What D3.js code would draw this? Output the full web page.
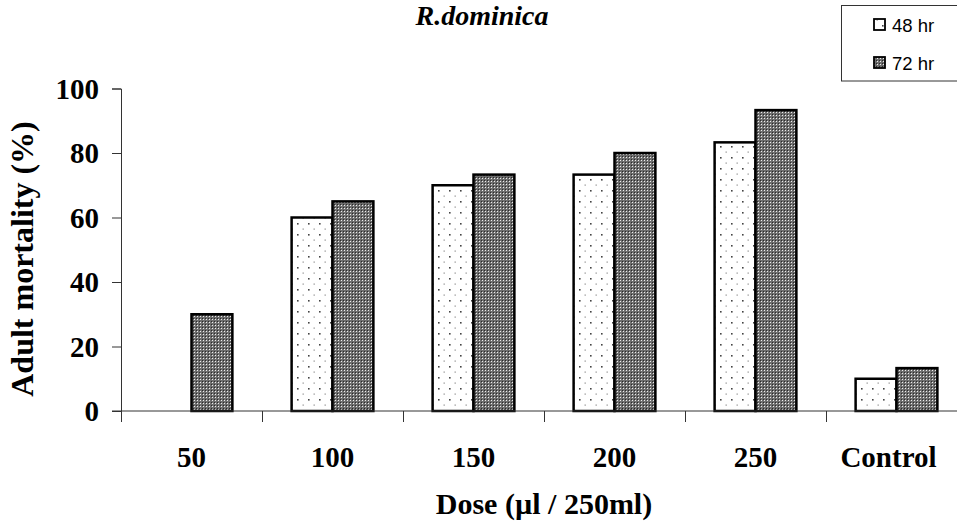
<!DOCTYPE html>
<html>
<head>
<meta charset="utf-8">
<script src="https://cdn.jsdelivr.net/npm/d3@7"></script>
<style>
  html, body { margin: 0; padding: 0; background: #fff; }
  svg { display: block; }
</style>
</head>
<body>
<svg id="chart" width="957" height="527"></svg>
<script>
const categories = ["50", "100", "150", "200", "250", "Control"];
const seriesNames = ["48 hr", "72 hr"];
const values48 = [0, 60, 70, 73.3, 83.3, 10];
const values72 = [30, 65, 73.3, 80, 93.3, 13.3];
const yTicks = [0, 20, 40, 60, 80, 100];
const chartTitle = "R.dominica";
const xTitle = "Dose (\u00b5l / 250ml)";
const yTitle = "Adult mortality (%)";

const svg = d3.select("#chart");
const W = 957, H = 527;
const plot = { left: 121, right: 967, top: 88.5, bottom: 411 };
const serif = "'Liberation Serif', 'Times New Roman', serif";
const sans = "'Liberation Sans', Arial, sans-serif";

svg.append("rect").attr("width", W).attr("height", H).attr("fill", "#fff");

// patterns
const defs = svg.append("defs");
const pDot = defs.append("pattern").attr("id", "pDot")
  .attr("patternUnits", "userSpaceOnUse").attr("width", 11).attr("height", 11);
pDot.append("rect").attr("width", 11).attr("height", 11).attr("fill", "#fff");
pDot.append("rect").attr("x", 2).attr("y", 3).attr("width", 1.6).attr("height", 1.6).attr("fill", "#444");
pDot.append("rect").attr("x", 7.5).attr("y", 8.5).attr("width", 1.4).attr("height", 1.2).attr("fill", "#999");

const pHatch = defs.append("pattern").attr("id", "pHatch")
  .attr("patternUnits", "userSpaceOnUse").attr("width", 3).attr("height", 3);
pHatch.append("rect").attr("width", 3).attr("height", 3).attr("fill", "#6e6e6e");
pHatch.append("rect").attr("x", 1).attr("y", 1).attr("width", 1).attr("height", 1).attr("fill", "#ededed");
pHatch.append("rect").attr("x", 0).attr("y", 0).attr("width", 1).attr("height", 1).attr("fill", "#2a2a2a");

const fills = ["url(#pDot)", "url(#pHatch)"];

// scales
const x0 = d3.scaleBand().domain(categories).range([plot.left, plot.right]).padding(0);
const bw = x0.bandwidth();
const barW = bw * 0.29;
const x1 = d3.scaleBand().domain(seriesNames).range([bw / 2 - barW, bw / 2 + barW]).padding(0);
const y = d3.scaleLinear().domain([0, 100]).range([plot.bottom, plot.top]);

// title
svg.append("text").attr("x", 482).attr("y", 25)
  .attr("text-anchor", "middle")
  .style("font-family", serif).style("font-weight", "bold").style("font-style", "italic")
  .style("font-size", "28px").text(chartTitle);

// bars
const data = categories.map((c, i) => ({ cat: c, vals: [values48[i], values72[i]] }));
const groups = svg.append("g").selectAll("g").data(data).join("g")
  .attr("transform", d => `translate(${x0(d.cat)},0)`);
groups.selectAll("rect")
  .data(d => d.vals.map((v, j) => ({ s: seriesNames[j], v, j })).filter(e => e.v > 0))
  .join("rect")
  .attr("x", e => x1(e.s))
  .attr("y", e => y(e.v))
  .attr("width", x1.bandwidth())
  .attr("height", e => y(0) - y(e.v))
  .attr("fill", e => fills[e.j])
  .attr("stroke", "#000")
  .attr("stroke-width", 2.5);

// y axis
const yAxis = d3.axisLeft(y).tickValues(yTicks).tickSize(9).tickPadding(13);
const gy = svg.append("g").attr("transform", `translate(${plot.left},0)`).call(yAxis);
gy.select(".domain").attr("stroke", "#333");
gy.selectAll(".tick line").attr("stroke", "#333");
gy.selectAll(".tick text")
  .style("font-family", serif).style("font-weight", "bold").style("font-size", "29px")
  .attr("fill", "#000").attr("dy", "0.34em");

// x axis line
svg.append("line").attr("x1", plot.left - 9).attr("x2", W)
  .attr("y1", y(0)).attr("y2", y(0)).attr("stroke", "#333").attr("stroke-width", 1);
// category boundary ticks
svg.append("g").selectAll("line").data(categories).join("line")
  .attr("x1", d => x0(d) + 0.5).attr("x2", d => x0(d) + 0.5)
  .attr("y1", y(0)).attr("y2", y(0) + 11)
  .attr("stroke", "#333").attr("stroke-width", 1);
// x labels
svg.append("g").selectAll("text").data(categories).join("text")
  .attr("x", d => x0(d) + bw / 2 - (d === "Control" ? 8 : 0))
  .attr("y", 467)
  .attr("text-anchor", "middle")
  .style("font-family", serif).style("font-weight", "bold").style("font-size", "29px")
  .text(d => d);

// axis titles
svg.append("text").attr("x", (plot.left + plot.right) / 2).attr("y", 514)
  .attr("text-anchor", "middle")
  .style("font-family", serif).style("font-weight", "bold").style("font-size", "30px")
  .text(xTitle);
svg.append("text")
  .attr("transform", `translate(33,259) rotate(-90)`)
  .attr("text-anchor", "middle")
  .style("font-family", serif).style("font-weight", "bold").style("font-size", "32px")
  .text(yTitle);

// legend
const lg = svg.append("g");
lg.append("rect").attr("x", 841.5).attr("y", 5.5).attr("width", 130).attr("height", 75.5)
  .attr("fill", "#fff").attr("stroke", "#333").attr("stroke-width", 1);
const legendY = [31.5, 69.5];
seriesNames.forEach((s, i) => {
  lg.append("rect").attr("x", 874).attr("y", legendY[i] - 12.5).attr("width", 11).attr("height", 11)
    .attr("fill", fills[i]).attr("stroke", "#000").attr("stroke-width", 1.8);
  lg.append("text").attr("x", 892).attr("y", legendY[i])
    .style("font-family", sans).style("font-size", "18.5px").attr("fill", "#000").text(s);
});
</script>
</body>
</html>
